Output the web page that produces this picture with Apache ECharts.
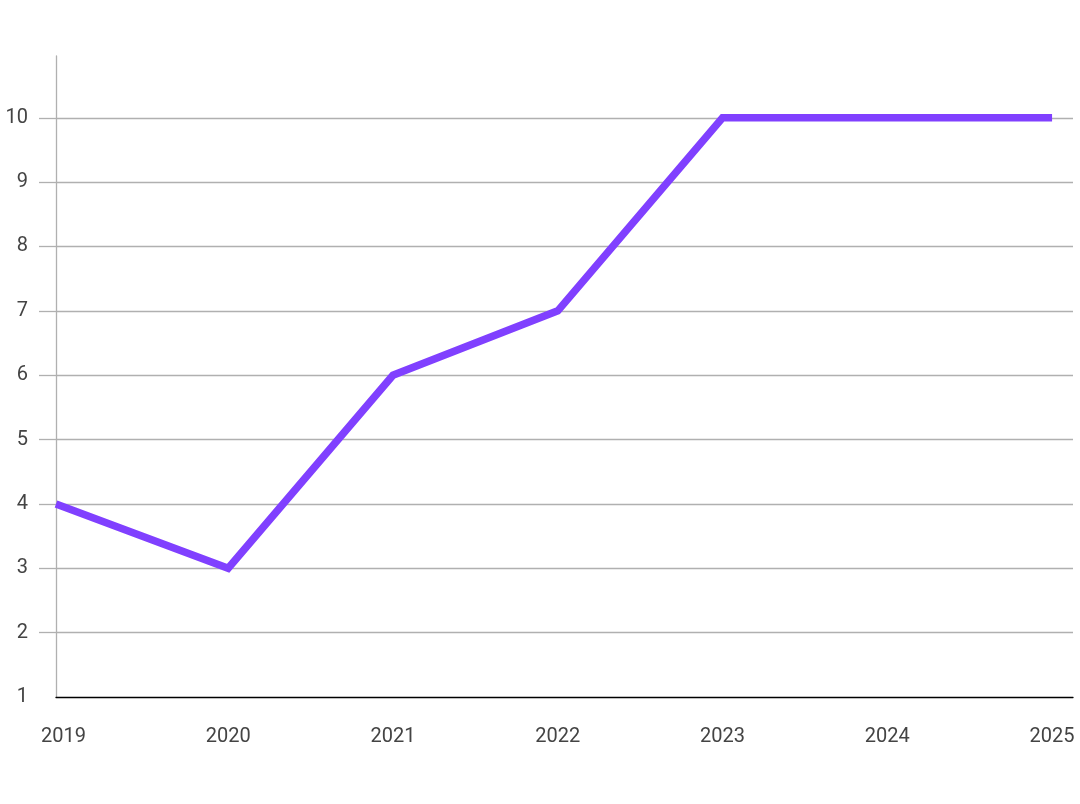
<!DOCTYPE html>
<html>
<head>
<meta charset="utf-8">
<style>
html,body{margin:0;padding:0;background:#fff;}
#chart{width:1080px;height:804px;}
</style>
<script src="https://cdn.jsdelivr.net/npm/echarts@6/dist/echarts.min.js"></script>
</head>
<body>
<div id="chart"></div>
<script>
// Tick labels on the x axis
const years = [2019, 2020, 2021, 2022, 2023, 2024, 2025];
// Horizontal position of each point (first point sits on the y axis)
const pointX = [2018.955, 2020, 2021, 2022, 2023, 2024, 2025];
const values = [4, 3, 6, 7, 10, 10, 10];
const yTickValues = [2, 3, 4, 5, 6, 7, 8, 9, 10];
const yLabelValues = [1, 2, 3, 4, 5, 6, 7, 8, 9, 10];

const chart = echarts.init(document.getElementById('chart'));
chart.setOption({
  animation: false,
  backgroundColor: '#ffffff',
  textStyle: { fontFamily: 'Roboto' },
  grid: { left: 56, right: 7, top: 56, bottom: 107, outerBoundsMode: 'none' },
  xAxis: {
    type: 'value',
    min: 2018.955,
    max: 2025.127,
    axisLine: { show: true, lineStyle: { color: '#000000', width: 1.3 } },
    axisTick: { show: false },
    splitLine: { show: false },
    axisLabel: {
      customValues: years,
      color: '#444444',
      fontSize: 20,
      fontFamily: 'Roboto',
      margin: 30,
      formatter: v => String(v)
    }
  },
  yAxis: {
    type: 'value',
    min: 1,
    max: 10.96,
    interval: 1,
    axisLine: { show: true, lineStyle: { color: '#b0b0b0', width: 1.3 } },
    axisTick: { show: true, customValues: yTickValues, length: 17, lineStyle: { color: '#b0b0b0', width: 1.3 } },
    splitLine: { show: true, lineStyle: { color: '#b0b0b0', width: 1.3 } },
    axisLabel: {
      customValues: yLabelValues,
      color: '#444444',
      fontSize: 20,
      fontFamily: 'Roboto',
      margin: 28
    }
  },
  series: [{
    type: 'line',
    data: pointX.map((x, i) => [x, values[i]]),
    showSymbol: false,
    symbol: 'none',
    lineStyle: { color: '#8040ff', width: 7.5, cap: 'butt', join: 'miter' },
    itemStyle: { color: '#8040ff' }
  }]
});
</script>
</body>
</html>
